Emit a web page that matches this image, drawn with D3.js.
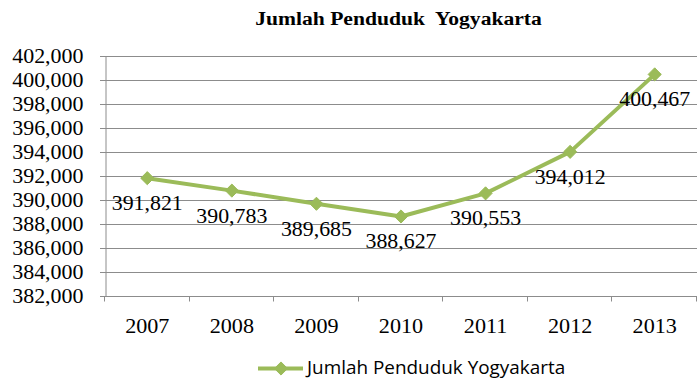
<!DOCTYPE html>
<html>
<head>
<meta charset="utf-8">
<script src="https://cdn.jsdelivr.net/npm/d3@7"></script>
<style>
  html, body { margin: 0; padding: 0; background: #fff; }
  svg { display: block; }
</style>
</head>
<body>
<svg id="chart" width="697" height="379"></svg>
<script>
// Population of Yogyakarta per year
const years = ["2007", "2008", "2009", "2010", "2011", "2012", "2013"];
const population = [391821, 390783, 389685, 388627, 390553, 394012, 400467];
const yTicks = [382000, 384000, 386000, 388000, 390000, 392000, 394000, 396000, 398000, 400000, 402000];
const chartTitle = "Jumlah Penduduk  Yogyakarta";
const seriesName = "Jumlah Penduduk Yogyakarta";

const W = 697, H = 379;
const margin = { left: 105, right: 0, top: 56, bottom: 83 };
const green = "#9bbb59";
const gridColor = "#8c8c8c";
const serif = "'Liberation Serif', 'Times New Roman', serif";

const svg = d3.select("#chart");

// Widen a text selection horizontally by factor k
function stretch(sel, k) {
  sel.each(function () {
    const len = this.getComputedTextLength();
    d3.select(this)
      .attr("textLength", len * k)
      .attr("lengthAdjust", "spacingAndGlyphs");
  });
}

const x = d3.scaleBand().domain(years).range([margin.left, W - margin.right]).padding(0);
const y = d3.scaleLinear().domain([382000, 402000]).range([H - margin.bottom, margin.top]);
const fmt = d3.format(",");

// Horizontal gridlines
svg.append("g")
  .selectAll("line")
  .data(yTicks)
  .join("line")
  .attr("x1", margin.left - 5)
  .attr("x2", W - margin.right)
  .attr("y1", d => Math.round(y(d)) + 0.5)
  .attr("y2", d => Math.round(y(d)) + 0.5)
  .attr("stroke", gridColor)
  .attr("stroke-width", 1);

// Y axis
const yAxis = svg.append("g")
  .attr("transform", `translate(${margin.left + 0.5},0)`)
  .call(d3.axisLeft(y).tickValues(yTicks).tickFormat(fmt).tickSize(5).tickPadding(17));
yAxis.select(".domain").attr("stroke", gridColor);
yAxis.selectAll(".tick line").attr("stroke", gridColor);
yAxis.selectAll("text")
  .attr("font-family", serif)
  .attr("font-size", 20.5)
  .attr("fill", "#000")
  .call(stretch, 1.07);

// X axis with ticks at category boundaries
const xAxis = svg.append("g")
  .attr("transform", `translate(0,${Math.round(y(382000)) + 0.5})`);
xAxis.append("line")
  .attr("x1", margin.left).attr("x2", W - margin.right)
  .attr("stroke", gridColor);
const bounds = years.map(d => x(d)).concat([x(years[years.length - 1]) + x.bandwidth()]);
xAxis.selectAll("line.tk")
  .data(bounds)
  .join("line")
  .attr("class", "tk")
  .attr("x1", d => Math.round(d) - 0.5)
  .attr("x2", d => Math.round(d) - 0.5)
  .attr("y1", 0).attr("y2", 5)
  .attr("stroke", gridColor);
xAxis.selectAll("text")
  .data(years)
  .join("text")
  .attr("x", d => x(d) + x.bandwidth() / 2)
  .attr("y", 36)
  .attr("text-anchor", "middle")
  .attr("font-family", serif)
  .attr("font-size", 20.5)
  .attr("fill", "#000")
  .text(d => d)
  .call(stretch, 1.08);

// Series line
const pts = years.map((d, i) => ({ year: d, value: population[i] }));
const line = d3.line()
  .x(d => x(d.year) + x.bandwidth() / 2)
  .y(d => y(d.value));
svg.append("path")
  .datum(pts)
  .attr("d", line)
  .attr("fill", "none")
  .attr("stroke", green)
  .attr("stroke-width", 4)
  .attr("stroke-linejoin", "round");

// Diamond markers
const diamond = d3.symbol().type(d3.symbolDiamond2).size(110);
svg.append("g")
  .selectAll("path")
  .data(pts)
  .join("path")
  .attr("transform", d => `translate(${x(d.year) + x.bandwidth() / 2},${y(d.value)})`)
  .attr("d", diamond)
  .attr("fill", green)
  .attr("stroke", green)
  .attr("stroke-width", 1);

// Value labels below each point
svg.append("g")
  .selectAll("text")
  .data(pts)
  .join("text")
  .attr("x", d => x(d.year) + x.bandwidth() / 2)
  .attr("y", d => y(d.value) + 32)
  .attr("text-anchor", "middle")
  .attr("font-family", serif)
  .attr("font-size", 21)
  .attr("fill", "#000")
  .text(d => fmt(d.value))
  .call(stretch, 1.04);

// Title
svg.append("text")
  .attr("x", 398.5)
  .attr("y", 25)
  .attr("text-anchor", "middle")
  .attr("font-family", serif)
  .attr("font-weight", "bold")
  .attr("font-size", 18)
  .attr("fill", "#000")
  .style("white-space", "pre")
  .text(chartTitle)
  .call(stretch, 1.2);

// Legend
const lg = svg.append("g").attr("transform", "translate(258,368.5)");
lg.append("line")
  .attr("x1", 0).attr("x2", 45)
  .attr("stroke", green).attr("stroke-width", 4);
lg.append("path")
  .attr("transform", "translate(23,0)")
  .attr("d", diamond)
  .attr("fill", green).attr("stroke", green);
lg.append("text")
  .attr("x", 49)
  .attr("y", 5.5)
  .attr("font-family", "'Open Sans', 'Liberation Sans', sans-serif")
  .attr("font-size", 18)
  .attr("fill", "#000")
  .text(seriesName)
  .call(stretch, 1.05);
</script>
</body>
</html>
